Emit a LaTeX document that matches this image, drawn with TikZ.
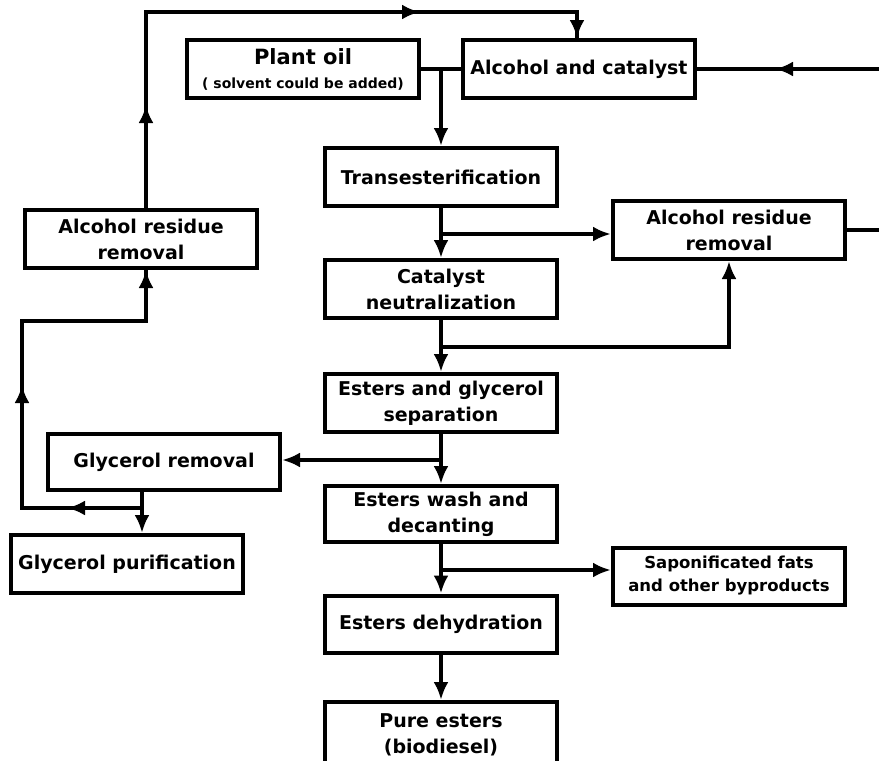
\documentclass[tikz,border=0pt]{standalone}
\usepackage{fontspec}
\setmainfont{DejaVu Sans}
\usetikzlibrary{positioning,arrows.meta}
\tikzset{
  stepbox/.style={draw, line width=4pt, minimum width=232pt, minimum height=58pt,
                  inner sep=2pt, align=center, font=\fontsize{19}{26}\selectfont\bfseries},
  flow/.style={line width=4pt, -{Latex[length=18pt,width=15pt]}},
  link/.style={line width=4pt},
}

\begin{document}
\begin{tikzpicture}[x=1pt,y=-1pt]
  \useasboundingbox (0,0) rectangle (879,761);
  % main column
  \node[stepbox] (plant) at (303,69)
       {{\fontsize{21}{24}\selectfont Plant oil}\\[-2pt]{\fontsize{14}{16}\selectfont ( solvent could be added)}};
  \node[stepbox] (alcat) at (579,69) {Alcohol and catalyst};
  \node[stepbox] (trans) at (441,177) {Transesterification};
  \node[stepbox] (cat) at (441,289) {Catalyst\\neutralization};
  \node[stepbox] (sep) at (441,403) {Esters and glycerol\\separation};
  \node[stepbox, minimum height=56pt] (wash) at (441,514) {Esters wash and\\decanting};
  \node[stepbox, minimum height=57pt] (dehyd) at (441,624) {Esters dehydration};
  \node[stepbox, minimum height=66pt] (pure) at (441,735) {Pure esters\\(biodiesel)};
  % side boxes
  \node[stepbox] (alcR) at (729,230) {Alcohol residue\\removal};
  \node[stepbox, minimum height=57pt, font=\fontsize{16.5}{23}\selectfont\bfseries] (sapo) at (729,576)
       {Saponificated fats\\and other byproducts};
  \node[stepbox] (alcL) at (141,239) {Alcohol residue\\removal};
  \node[stepbox, minimum height=56pt] (glyrem) at (164,462) {Glycerol removal};
  \node[stepbox] (glypur) at (127,564) {Glycerol purification};

  % junctions and bends
  \coordinate (j1) at (441,234);
  \coordinate (j2) at (441,347);
  \coordinate (j3) at (441,460);
  \coordinate (j4) at (441,570);
  \coordinate (g1) at (142,508);
  \coordinate (g2) at (67,508);
  \coordinate (g3) at (22,508);
  \coordinate (g4) at (22,385);
  \coordinate (g5) at (22,321);
  \coordinate (g6) at (146,321);
  \coordinate (t0) at (146,105);
  \coordinate (t1) at (146,12);
  \coordinate (t2) at (420,12);
  \coordinate (t3) at (577,12);
  \coordinate (r0) at (879,69);
  \coordinate (r1) at (775,69);
  \coordinate (r2) at (879,230);

  % feed lines
  \draw[link] (plant.east |- alcat.west) -- (alcat.west);
  \draw[flow] (alcat.west -| trans.north) -- (trans.north);
  \draw[link] (r0) -- (alcat.east);
  \draw[flow] (r0) -- (r1);
  \draw[link] (alcR.east) -- (r2);
  % main column
  \draw[flow] (trans) -- (cat);
  \draw[flow] (j1) -- (j1 -| alcR.west);
  \draw[flow] (cat) -- (sep);
  \draw[flow] (j2) -- (j2 -| alcR.south) -- (alcR.south);
  \draw[flow] (sep) -- (wash);
  \draw[flow] (j3) -- (j3 -| glyrem.east);
  \draw[flow] (wash) -- (dehyd);
  \draw[flow] (j4) -- (j4 -| sapo.west);
  \draw[flow] (dehyd) -- (pure);
  % glycerol branch and alcohol recycle
  \draw[flow] (glyrem.south -| g1) -- (glypur.north -| g1);
  \draw[link] (g1) -- (g3) -- (g5) -- (g6) -- (alcL.south -| g6);
  \draw[flow] (g1) -- (g2);
  \draw[flow] (g3) -- (g4);
  \draw[flow] (g6) -- (alcL.south -| g6);
  \draw[link] (alcL.north -| t0) -- (t1) -- (t3) -- (t3 |- alcat.north);
  \draw[flow] (alcL.north -| t0) -- (t0);
  \draw[flow] (t1) -- (t2);
  \draw[flow] (t3) -- (t3 |- alcat.north);
\end{tikzpicture}
\end{document}
